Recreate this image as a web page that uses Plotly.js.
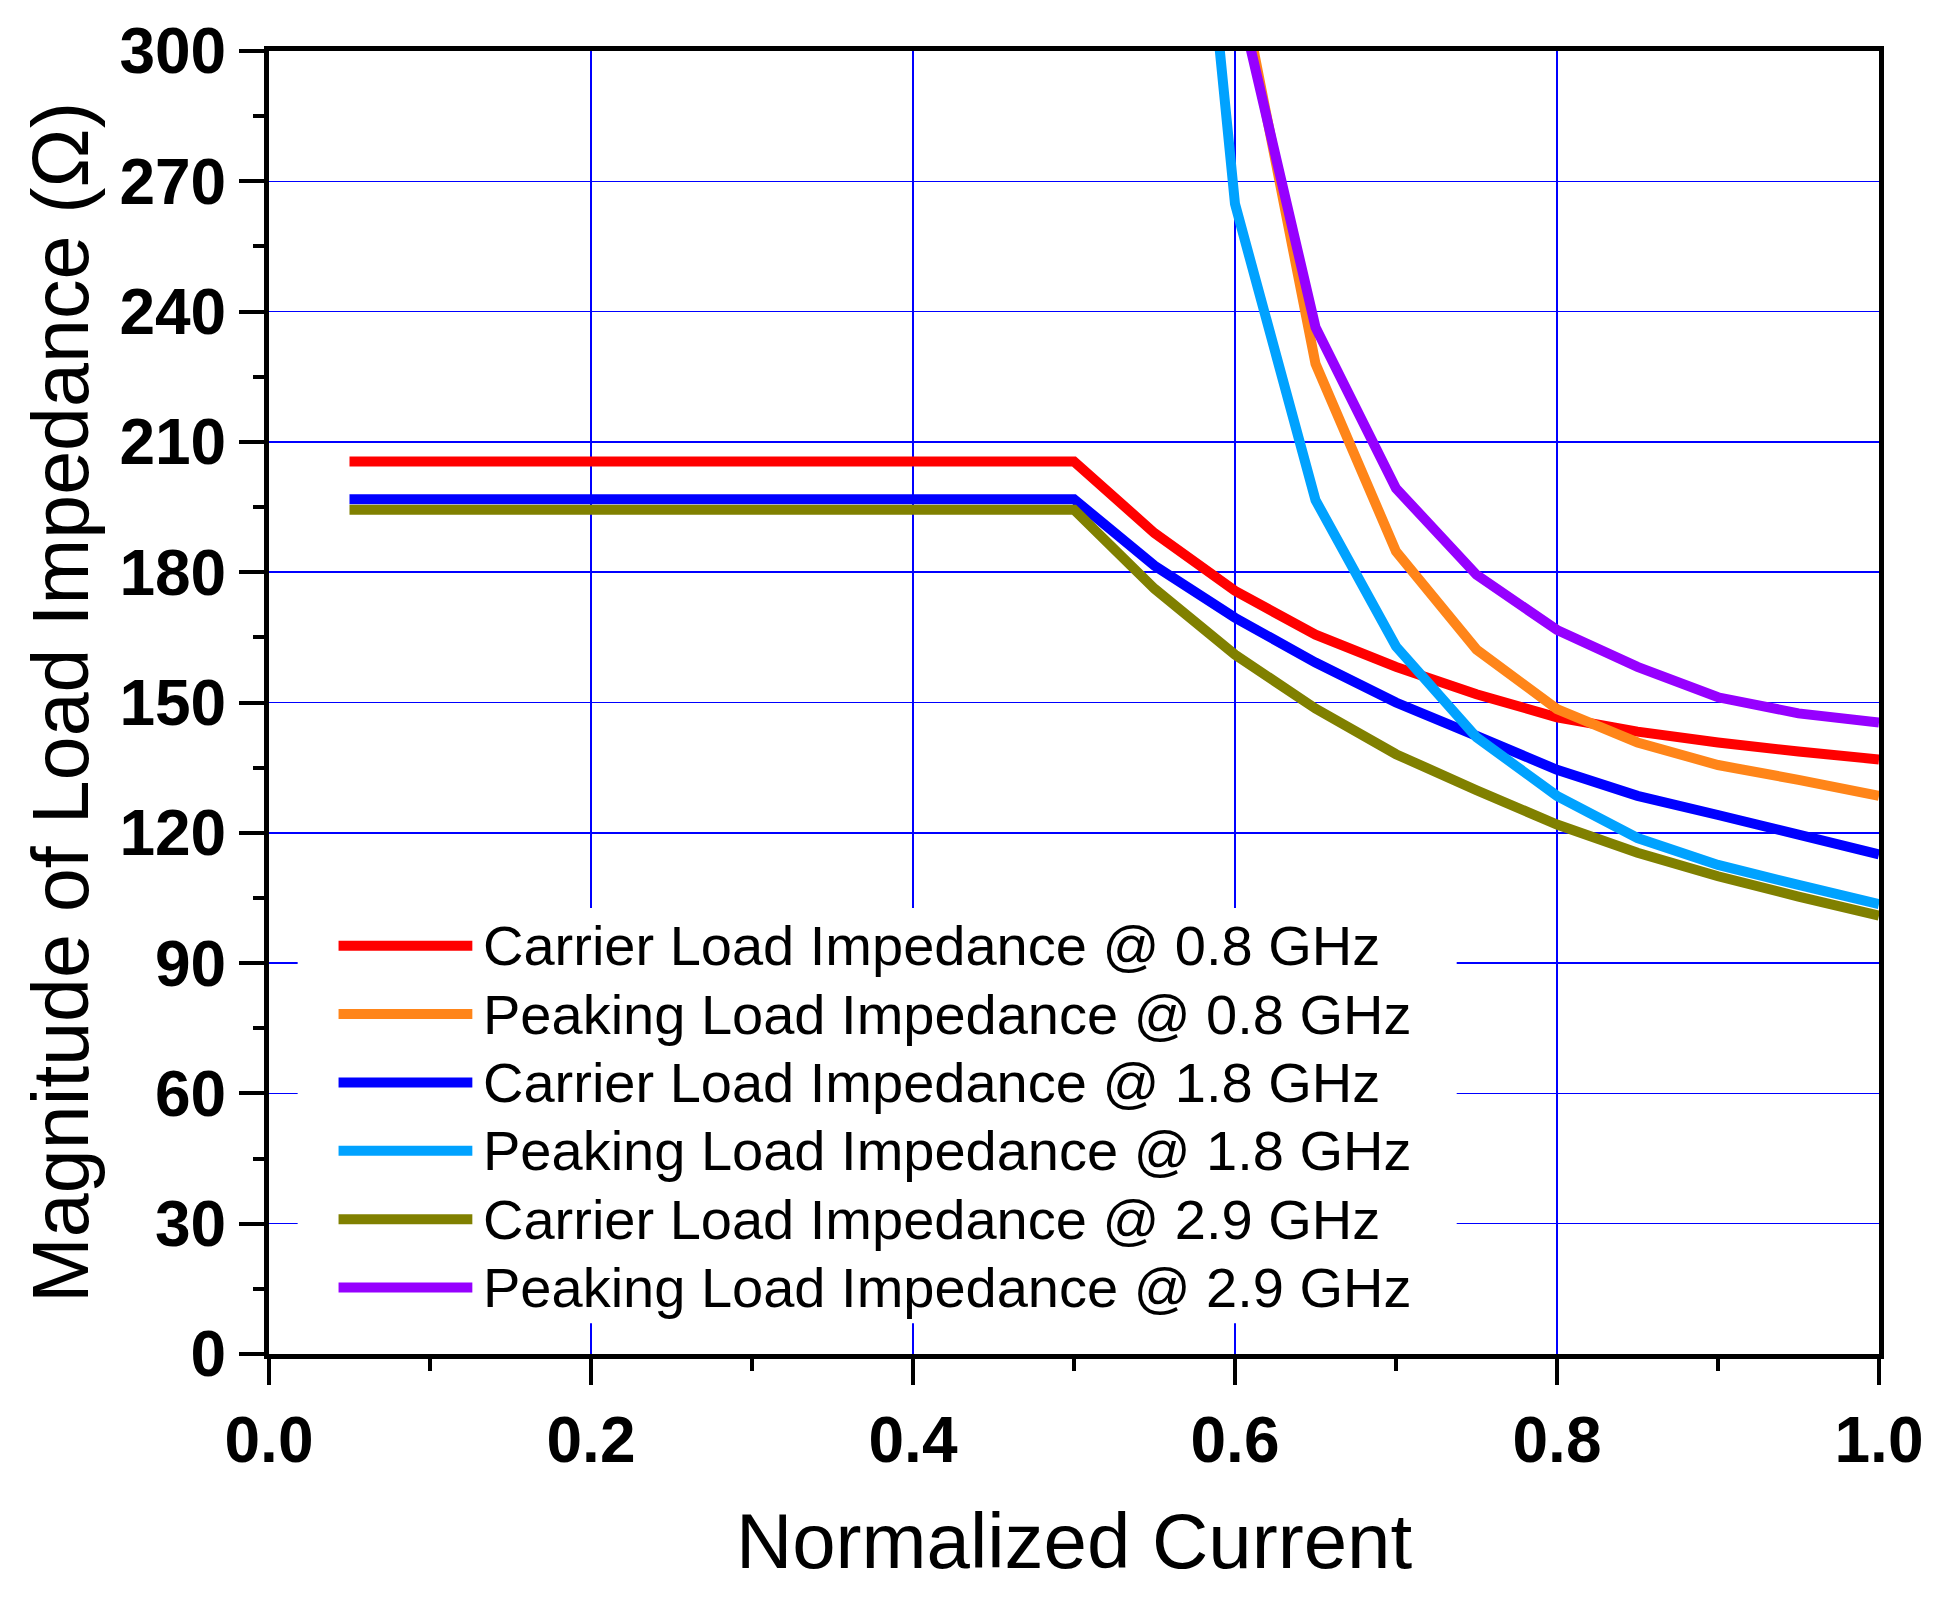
<!DOCTYPE html>
<html>
<head>
<meta charset="utf-8">
<script src="https://cdn.plot.ly/plotly-3.0.1.min.js"></script>
<style>html,body{margin:0;padding:0;background:#fff;}#chart{width:1946px;height:1600px;}</style>
</head>
<body>
<div id="chart"></div>
<script>
// ---- data ----
const carrierX = [0.05,0.10,0.15,0.20,0.25,0.30,0.35,0.40,0.45,0.50,0.55,0.60,0.65,0.70,0.75,0.80,0.85,0.90,0.95,1.00];
const carrier08 = [205.5,205.5,205.5,205.5,205.5,205.5,205.5,205.5,205.5,205.5,189.0,175.7,165.6,158.2,151.9,146.6,143.3,140.8,138.7,136.9];
const carrier18 = [196.8,196.8,196.8,196.8,196.8,196.8,196.8,196.8,196.8,196.8,181.5,169.5,159.2,150.0,142.3,134.5,128.5,124.1,119.6,115.0];
const carrier29 = [194.4,194.4,194.4,194.4,194.4,194.4,194.4,194.4,194.4,194.4,176.2,161.0,148.6,138.1,129.8,121.9,115.4,110.0,105.3,100.9];
const peaking18X = [0.55,0.60,0.65,0.70,0.75,0.80,0.85,0.90,0.95,1.00];
const peaking18 = [452.0,264.8,196.6,162.9,142.0,128.5,118.8,112.6,108.0,103.6];
const peakingX = [0.60,0.65,0.70,0.75,0.80,0.85,0.90,0.95,1.00];
const peaking08 = [322.0,228.0,184.8,162.2,148.5,140.8,135.6,132.2,128.5];
const peaking29 = [316.0,236.4,199.3,179.4,166.7,158.2,151.2,147.5,145.4];

const seriesNames = [
  'Carrier Load Impedance @ 0.8 GHz',
  'Peaking Load Impedance @ 0.8 GHz',
  'Carrier Load Impedance @ 1.8 GHz',
  'Peaking Load Impedance @ 1.8 GHz',
  'Carrier Load Impedance @ 2.9 GHz',
  'Peaking Load Impedance @ 2.9 GHz'
];
const xTickVals = [0,0.2,0.4,0.6,0.8,1.0];
const xTickText = ['0.0','0.2','0.4','0.6','0.8','1.0'];
const yTickVals = [0,30,60,90,120,150,180,210,240,270,300];
const yTickText = ['0','30','60','90','120','150','180','210','240','270','300'];
const xMinor = [0.1,0.3,0.5,0.7,0.9];
const yMinor = [15,45,75,105,135,165,195,225,255,285];

// ---- styles ----
const colors = ['#ff0000','#ff8519','#0000ff','#00a2ff','#808000','#9600ff'];
const seriesX = [carrierX, peakingX, carrierX, peaking18X, carrierX, peakingX];
const seriesY = [carrier08, peaking08, carrier18, peaking18, carrier29, peaking29];
const FONT = 'Liberation Sans, Arial, Helvetica, sans-serif';

const traces = seriesY.map((ys, i) => ({
  type: 'scatter', mode: 'lines', name: seriesNames[i],
  x: seriesX[i], y: ys,
  line: {color: colors[i], width: 10, simplify: false},
  hoverinfo: 'skip'
}));

// custom legend (long line samples like the original)
const legTopY = 94.0, legStep = 15.74;
const shapes = [{
  type: 'rect', xref: 'x', yref: 'y', x0: 0.0178, x1: 0.7377, y0: 7.1, y1: 102.7,
  fillcolor: '#ffffff', line: {width: 0}, layer: 'between'
}];
const annotations = [];
seriesNames.forEach((n, i) => {
  const yy = legTopY - legStep * i;
  shapes.push({type: 'line', xref: 'x', yref: 'y', x0: 0.0432, x1: 0.1263, y0: yy, y1: yy,
    line: {color: colors[i], width: 10}, layer: 'above'});
  annotations.push({xref: 'x', yref: 'y', x: 0.1315, y: yy, xanchor: 'left', yanchor: 'middle',
    text: n, showarrow: false, font: {family: FONT, size: 56, color: '#000'}});
});

const axisCommon = {
  showline: true, linewidth: 5, linecolor: '#000', mirror: true,
  ticks: 'outside', tickwidth: 4, tickcolor: '#000',
  showgrid: true, gridcolor: '#0000ff', gridwidth: 1.5,
  zeroline: false,
  tickfont: {family: FONT, size: 64, color: '#000', weight: 'bold'}
};

const layout = {
  width: 1946, height: 1600,
  margin: {l: 269, r: 67, t: 51, b: 246, pad: 0},
  paper_bgcolor: '#fff', plot_bgcolor: '#fff',
  showlegend: false,
  xaxis: Object.assign({}, axisCommon, {
    range: [0, 1], tickmode: 'array', tickvals: xTickVals, ticktext: xTickText,
    ticklen: 26,
    minor: {tickmode: 'array', tickvals: xMinor, ticks: 'outside', ticklen: 12, tickwidth: 4, tickcolor: '#000', showgrid: false},
    title: {text: 'Normalized Current', font: {family: FONT, size: 78, color: '#000'}, standoff: 40}
  }),
  yaxis: Object.assign({}, axisCommon, {
    range: [0, 300], tickmode: 'array', tickvals: yTickVals, ticktext: yTickText,
    ticklen: 25,
    minor: {tickmode: 'array', tickvals: yMinor, ticks: 'outside', ticklen: 11, tickwidth: 4, tickcolor: '#000', showgrid: false},
    title: {text: 'Magnitude of Load Impedance (Ω)', font: {family: FONT, size: 79, color: '#000'}, standoff: 6}
  }),
  shapes: shapes,
  annotations: annotations
};

Plotly.newPlot('chart', traces, layout, {staticPlot: true, displayModeBar: false});
</script>
</body>
</html>
